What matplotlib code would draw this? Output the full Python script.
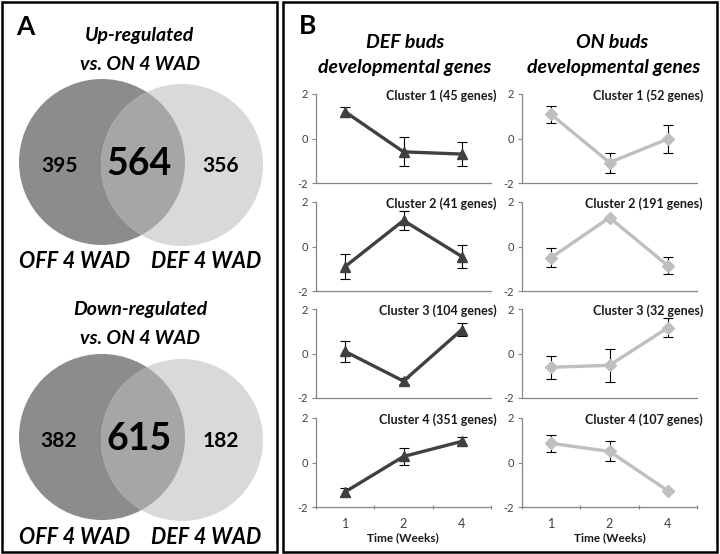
import numpy as np
import matplotlib
matplotlib.use('Agg')
import matplotlib.pyplot as plt
from matplotlib.patches import Circle, Rectangle

plt.rcParams['font.family'] = ['Lato', 'DejaVu Sans']

# Venn diagram counts (only OFF, shared, only DEF)
up_counts = [395, 564, 356]
down_counts = [382, 615, 182]
venn_titles = [['Up-regulated', 'vs. ON 4 WAD'], ['Down-regulated', 'vs. ON 4 WAD']]
set_labels = ['OFF 4 WAD', 'DEF 4 WAD']

# cluster profiles
weeks = ['1', '2', '4']
def_titles = ['Cluster 1 (45 genes)', 'Cluster 2 (41 genes)',
              'Cluster 3 (104 genes)', 'Cluster 4 (351 genes)']
def_mean = [[1.20, -0.60, -0.70], [-0.90, 1.17, -0.45],
            [0.09, -1.24, 1.07], [-1.32, 0.27, 0.95]]
def_err = [[0.22, 0.65, 0.55], [0.57, 0.42, 0.53],
           [0.47, 0.15, 0.30], [0.18, 0.37, 0.18]]
on_titles = ['Cluster 1 (52 genes)', 'Cluster 2 (191 genes)',
             'Cluster 3 (32 genes)', 'Cluster 4 (107 genes)']
on_mean = [[1.08, -1.08, -0.02], [-0.50, 1.30, -0.86],
           [-0.62, -0.53, 1.16], [0.86, 0.50, -1.27]]
on_err = [[0.38, 0.45, 0.63], [0.43, 0.03, 0.38],
          [0.53, 0.73, 0.44], [0.38, 0.45, 0.03]]

W, H = 720, 554
fig = plt.figure(figsize=(7.2, 5.54), dpi=100)
bg = fig.add_axes([0, 0, 1, 1])
bg.set_xlim(0, W)
bg.set_ylim(H, 0)
bg.axis('off')

# panel frames
bg.add_patch(Rectangle((2, 2), 275, 550, fill=False, lw=1.8, ec='black'))
bg.add_patch(Rectangle((283, 2), 434, 550, fill=False, lw=1.8, ec='black'))
bg.text(16, 35, 'A', fontsize=19, fontweight='bold', va='baseline')
bg.text(299, 34, 'B', fontsize=19, fontweight='bold', va='baseline')

bi = dict(fontweight='bold', fontstyle='italic', ha='center', va='center')


def venn(cy, counts, title, ty):
    c1 = Circle((102, cy), 83, fc='#8c8c8c', ec='none')
    c2 = Circle((182, cy + 3), 81, fc='#d9d9d9', ec='none')
    bg.add_patch(c1)
    bg.add_patch(c2)
    ov = Circle((182, cy + 3), 81, fc='#a6a6a6', ec='none')
    bg.add_patch(ov)
    ov.set_clip_path(c1)
    bg.text(140, ty, title[0], fontsize=14, **bi)
    bg.text(140, ty + 29, title[1], fontsize=14, **bi)
    bg.text(59, cy + 4, str(counts[0]), fontsize=15, fontweight='bold', ha='center', va='center')
    bg.text(139, cy + 2, str(counts[1]), fontsize=27, fontweight='bold', ha='center', va='center')
    bg.text(221, cy + 4, str(counts[2]), fontsize=15, fontweight='bold', ha='center', va='center')
    bg.text(75, cy + 100, set_labels[0], fontsize=15.5, **bi)
    bg.text(206, cy + 100, set_labels[1], fontsize=15.5, **bi)


venn(162, up_counts, venn_titles[0], 36)
venn(437, down_counts, venn_titles[1], 310)

# column headers
bg.text(405, 43, 'DEF buds', fontsize=14, **bi)
bg.text(405, 68, 'developmental genes', fontsize=14, **bi)
bg.text(612, 43, 'ON buds', fontsize=14, **bi)
bg.text(614, 68, 'developmental genes', fontsize=14, **bi)

col_x = [316, 522]
aw = 175
tops = [94, 202, 309, 418]
ah = 89
axis_col = '#868686'
x = np.arange(len(weeks))

cols = [(def_mean, def_err, def_titles, '#404040', '^', 7.5),
        (on_mean, on_err, on_titles, '#bfbfbf', 'D', 6)]

for ci, (means, errs, titles, color, mk, ms) in enumerate(cols):
    for ri in range(4):
        t = tops[ri]
        ax = fig.add_axes([col_x[ci] / W, 1 - (t + ah) / H, aw / W, ah / H])
        ax.patch.set_alpha(0)
        ax.errorbar(x, means[ri], yerr=errs[ri], fmt='none', ecolor='black',
                    elinewidth=0.8, capsize=3.5, capthick=0.8, zorder=2)
        ax.plot(x, means[ri], color=color, lw=2.4, marker=mk, ms=ms, zorder=3)
        ax.set_xlim(-0.5, 2.5)
        ax.set_ylim(-2, 2)
        for s in ['top', 'right']:
            ax.spines[s].set_visible(False)
        for s in ['left', 'bottom']:
            ax.spines[s].set_color(axis_col)
            ax.spines[s].set_linewidth(0.9)
        ax.set_yticks([-2, 0, 2])
        ax.set_yticklabels(['-2', '0', '2'])
        ax.tick_params(axis='y', length=3, width=0.8, color=axis_col,
                       labelsize=8, labelcolor='#404040', pad=3)
        ax.set_xticks(x)
        if ri == 3:
            ax.set_xticklabels(weeks)
            ax.set_xticks([-0.5, 0.5, 1.5, 2.5], minor=True)
            ax.tick_params(axis='x', which='minor', length=3, width=0.8,
                           color=axis_col, direction='inout')
            ax.tick_params(axis='x', which='major', length=0, labelsize=9,
                           labelcolor='#404040', pad=8)
        else:
            ax.set_xticklabels([])
            ax.tick_params(axis='x', length=0)
        ax.text(1 + 6 / aw, 1 - 2 / ah, titles[ri], transform=ax.transAxes,
                ha='right', va='center', fontsize=9, fontweight='bold',
                color='#1a1a1a', clip_on=False)

bg.text(403, 538, 'Time (Weeks)', fontsize=8.5, fontweight='bold', ha='center', va='center', color='#1a1a1a')
bg.text(610, 538, 'Time (Weeks)', fontsize=8.5, fontweight='bold', ha='center', va='center', color='#1a1a1a')

fig.savefig('out.png', dpi=100)
